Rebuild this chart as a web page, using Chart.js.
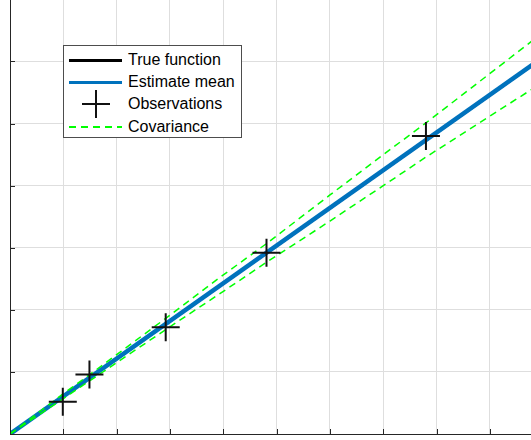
<!DOCTYPE html>
<html>
<head>
<meta charset="utf-8">
<script src="https://cdn.jsdelivr.net/npm/chart.js@4"></script>
<style>
  html, body { margin: 0; padding: 0; background: #ffffff; overflow: hidden; }
  #wrap { position: relative; width: 531px; height: 440px; }
  #legend {
    position: absolute; left: 63px; top: 45px; width: 177px; height: 91px;
    border: 1px solid #4d4d4d; background: #ffffff;
    font-family: "Liberation Sans", Arial, sans-serif; font-size: 16px; color: #000;
  }
  .row { position: absolute; left: 0; height: 22px; width: 100%; }
  .row span { position: absolute; left: 64px; top: 1px; line-height: 20px; white-space: nowrap; }
  .swatch { position: absolute; left: 5px; width: 53px; top: 10px; }
  .plusH { position: absolute; left: 18px; top: 10px; width: 28px; height: 2px; background: #111; }
  .plusV { position: absolute; left: 31px; top: -3px; width: 2px; height: 28px; background: #111; }
</style>
</head>
<body>
<div id="wrap">
  <canvas id="chart" width="531" height="440"></canvas>
  <div id="legend"></div>
</div>
<script>
// x / y values
const lineX = [0, 10];
const trueY = [0, 6.07]; //true function (hidden under the mean)
const meanY = [0, 6.07]; //estimate mean

const obsX = [0.99, 1.49, 2.92, 4.81, 7.8];
const obsY = [0.52, 0.96, 1.72, 2.92, 4.8];

const covX = [0, 1, 1.5, 2.9, 3.9, 4.8, 6, 7, 7.8, 10];
const covUpper = [0, 0.65, 0.96, 1.85, 2.5, 3.06, 3.85, 4.5, 5.01, 6.47];
const covLower = [0, 0.57, 0.86, 1.67, 2.24, 2.76, 3.43, 4.0, 4.46, 5.67];

const xTicks = [0, 1, 2, 3, 4, 5, 6, 7, 8, 9];
const yTicks = [0, 1, 2, 3, 4, 5, 6];

const legendLabels = ["True function", "Estimate mean", "Observations", "Covariance"];

const axisColor = "#262626";
const gridColor = "#dedede";
const blue = "#0072bd";
const green = "#00ff00";

//turns two arrays into {x, y} points
const toPoints = (xs, ys) => xs.map((x, i) => ({ x: x, y: ys[i] }));

//draws the matlab style inward ticks on the left and bottom axis
const inwardTicks = {
  id: "inwardTicks",
  afterDraw: (chart) => {
    const ctx = chart.ctx;
    const xs = chart.scales.x;
    const ys = chart.scales.y;
    const area = chart.chartArea;
    ctx.save();
    ctx.strokeStyle = axisColor;
    ctx.lineWidth = 1;
    ctx.beginPath();
    xTicks.forEach((v) => {
      const px = Math.round(xs.getPixelForValue(v)) + 0.5;
      ctx.moveTo(px, area.bottom);
      ctx.lineTo(px, area.bottom - 5);
    });
    yTicks.forEach((v) => {
      const py = Math.round(ys.getPixelForValue(v)) + 0.5;
      ctx.moveTo(area.left, py);
      ctx.lineTo(area.left + 5, py);
    });
    ctx.stroke();
    ctx.restore();
  },
};

//dashed covariance line settings
const covStyle = {
  showLine: true,
  borderColor: green,
  borderWidth: 1.5,
  borderDash: [7, 5],
  pointRadius: 0,
  order: 1,
};

const chart = new Chart(document.getElementById("chart"), {
  type: "scatter",
  data: {
    datasets: [
      {
        label: legendLabels[2],
        data: toPoints(obsX, obsY),
        pointStyle: "cross",
        pointRadius: 14,
        pointBorderWidth: 2,
        pointBorderColor: "#111111",
        showLine: false,
        order: 0,
      },
      { label: legendLabels[3], data: toPoints(covX, covUpper), ...covStyle },
      { label: legendLabels[3] + " lower", data: toPoints(covX, covLower), ...covStyle },
      {
        label: legendLabels[1],
        data: toPoints(lineX, meanY),
        showLine: true,
        borderColor: blue,
        borderWidth: 4.5,
        pointRadius: 0,
        order: 2,
      },
      {
        label: legendLabels[0],
        data: toPoints(lineX, trueY),
        showLine: true,
        borderColor: "#000000",
        borderWidth: 3,
        pointRadius: 0,
        order: 3,
      },
    ],
  },
  options: {
    responsive: false,
    animation: false,
    layout: { autoPadding: false, padding: { left: 10, top: 0, right: 0, bottom: 6 } },
    plugins: {
      legend: { display: false },
      tooltip: { enabled: false },
    },
    scales: {
      x: {
        min: 0,
        max: 9.77,
        ticks: { display: false, stepSize: 1, includeBounds: false },
        afterBuildTicks: (scale) => {
          scale.ticks = xTicks.map((v) => ({ value: v }));
        },
        grid: { color: gridColor, drawTicks: false },
        border: { color: axisColor, width: 1 },
      },
      y: {
        min: 0,
        max: 6.99,
        ticks: { display: false, stepSize: 1, includeBounds: false },
        afterBuildTicks: (scale) => {
          scale.ticks = yTicks.map((v) => ({ value: v }));
        },
        grid: { color: gridColor, drawTicks: false },
        border: { color: axisColor, width: 1 },
      },
    },
  },
  plugins: [inwardTicks],
});

//builds the html legend box from the legend labels
const buildLegend = () => {
  const box = document.getElementById("legend");
  const rowTops = [3, 25, 47, 70];
  legendLabels.forEach((label, i) => {
    const row = document.createElement("div");
    row.className = "row";
    row.style.top = rowTops[i] + "px";
    if (i === 2) {
      const h = document.createElement("div");
      h.className = "plusH";
      const v = document.createElement("div");
      v.className = "plusV";
      row.appendChild(h);
      row.appendChild(v);
    } else {
      const sw = document.createElement("div");
      sw.className = "swatch";
      if (i === 0) sw.style.borderTop = "3.5px solid #000000";
      if (i === 1) sw.style.borderTop = "3.5px solid " + blue;
      if (i === 3) {
        sw.style.height = "1.5px";
        sw.style.background = `repeating-linear-gradient(90deg, ${green} 0 7px, transparent 7px 12px)`;
      }
      row.appendChild(sw);
    }
    const text = document.createElement("span");
    text.textContent = label;
    row.appendChild(text);
    box.appendChild(row);
  });
};
buildLegend();
</script>
</body>
</html>
